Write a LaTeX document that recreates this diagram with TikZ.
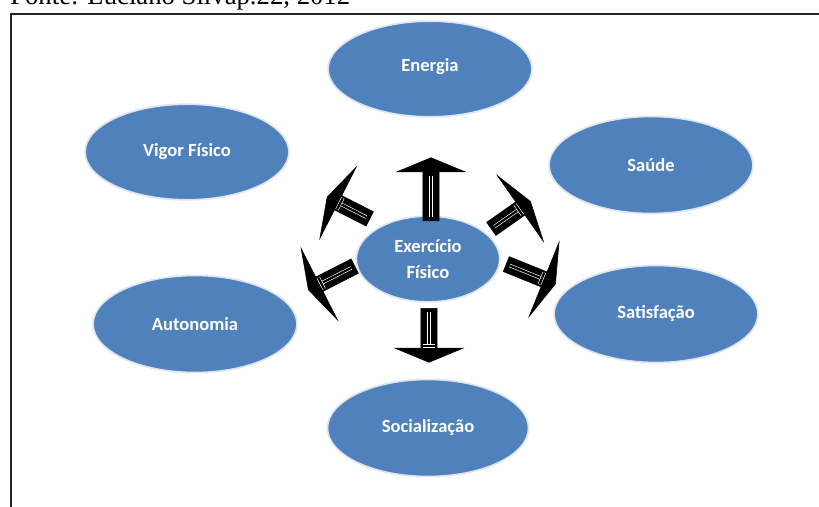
\documentclass[tikz,border=0pt]{standalone}
\usepackage{fontspec}
\setmainfont{Liberation Serif}
\newfontfamily\calibri{Carlito}
\usetikzlibrary{shapes.geometric,shapes.arrows}
\definecolor{ofblue}{RGB}{79,129,189}
\definecolor{rimgray}{RGB}{222,228,238}

\begin{document}
\begin{tikzpicture}[x=0.025cm,y=-0.025cm,
    bubble/.style={shape=ellipse,fill=ofblue,draw=rimgray,line width=1.2pt,inner sep=0pt,
        minimum width=145pt,minimum height=68pt,text=white,align=center,
        font=\calibri\bfseries\fontsize{13.2}{18}\selectfont},
    blockarrow/.style={shape=single arrow,fill=black,draw=black,inner sep=0pt,inner ysep=5.5pt,anchor=tail},
    innerline/.style={draw=white,line width=0.45pt,double=black,double distance=1.6pt}]
    \useasboundingbox (0,0) rectangle (819,506);
    \clip (0,0) rectangle (819,506);

    \node[anchor=base west,inner sep=0pt,font=\fontsize{19}{22}\selectfont] (fonte) at (10,4) {Fonte: Luciano Silvap.22, 2012};
    \draw[line width=1.8pt,draw=black!85] (11,14) rectangle (850,540);

    \node[bubble,text depth=6pt] (energia) at (430,69) {Energia};
    \node[bubble,minimum height=68pt] (vigor) at (187,152) {Vigor Físico};
    \node[bubble,minimum height=69pt] (saude) at (651,165) {Saúde};
    \node[bubble,minimum width=102pt,minimum height=61pt] (exercicio) at (428,259) {Exercício\\Físico};
    \node[bubble,minimum height=69pt] (autonomia) at (195,324) {Autonomia};
    \node[bubble,minimum height=69pt] (satisfacao) at (656,314) {Satisfação};
    \node[bubble,minimum width=143pt,minimum height=69pt] (socializacao) at (428,428) {Socialização};

    % block arrows out of the centre
    \foreach \nm/\px/\py/\ang/\len/\ext/\tip/\tb in {up/431/221/90/44.8/18.5/135/33,
        down/429/308/-90/38.4/18.5/135/27,
        upleft/370/219/153/34/22.8/146/24,
        downleft/355/266/207/37/22.8/146/27,
        upright/491/229/35/34/22.8/146/24,
        downright/506/264/-22/37.7/22.8/146/27.5}{
        \node[blockarrow,rotate=\ang,minimum height=\len pt,single arrow head extend=\ext pt,
            single arrow tip angle=\tip] (a\nm) at (\px,\py) {};
        \begin{scope}[shift={(a\nm.tail)},rotate=\ang,x=1pt,y=1pt]
            \draw[innerline] (3,0) -- (\tb,0);
            \draw[innerline] (\tb,-4.5) -- (\tb,4.5);
        \end{scope}
    }

\end{tikzpicture}
\end{document}
